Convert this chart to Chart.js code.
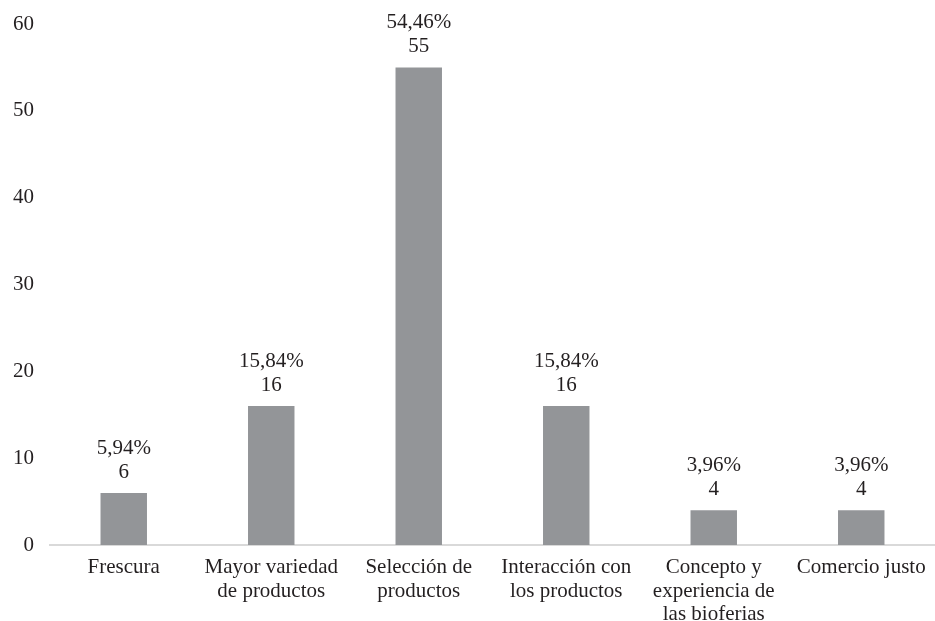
<!DOCTYPE html>
<html>
<head>
<meta charset="utf-8">
<script src="https://cdn.jsdelivr.net/npm/chart.js@4/dist/chart.umd.min.js"></script>
<style>
  html, body { margin: 0; padding: 0; background: #fff; font-family: 'Liberation Serif', serif; }
  #wrap { width: 935px; height: 621px; }
</style>
</head>
<body>
<div id="wrap"><canvas id="myChart"></canvas></div>
<script>
const categories = [
  "Frescura",
  ["Mayor variedad", "de productos"],
  ["Selección de", "productos"],
  ["Interacción con", "los productos"],
  ["Concepto y", "experiencia de", "las bioferias"],
  "Comercio justo",
];
const counts = [6, 16, 55, 16, 4, 4];
const percents = ["5,94%", "15,84%", "54,46%", "15,84%", "3,96%", "3,96%"];
const yTicks = [0, 10, 20, 30, 40, 50, 60];

const FONT = "'Liberation Serif', serif";
const TEXT = "#231f20";

Chart.defaults.font.family = FONT;

// percentage + count stacked above each bar
const barLabels = {
  id: "barLabels",
  afterDatasetsDraw(chart) {
    const ctx = chart.ctx;
    const meta = chart.getDatasetMeta(0);
    ctx.save();
    ctx.font = "21px " + FONT;
    ctx.fillStyle = TEXT;
    ctx.textAlign = "center";
    ctx.textBaseline = "alphabetic";
    meta.data.forEach((bar, i) => {
      ctx.fillText(String(counts[i]), bar.x, bar.y - 15);
      ctx.fillText(percents[i], bar.x, bar.y - 39);
    });
    ctx.restore();
  },
};

function draw() {
  new Chart("myChart", {
    type: "bar",
    data: {
      labels: categories,
      datasets: [
        {
          data: counts,
          backgroundColor: "#939598",
          categoryPercentage: 1,
          barPercentage: 0.315,
        },
      ],
    },
    options: {
      responsive: true,
      maintainAspectRatio: false,
      animation: false,
      layout: { padding: { top: 24, right: 0, left: 0, bottom: 0 } },
      plugins: { legend: { display: false }, tooltip: { enabled: false } },
      scales: {
        x: {
          afterFit: (scale) => {
            scale.height = 76;
          },
          grid: { display: false },
          border: { display: true, color: "#d9d9d9", width: 2 },
          ticks: {
            font: { family: FONT, size: 21, lineHeight: 1.12 },
            color: TEXT,
            maxRotation: 0,
            autoSkip: false,
            padding: 3,
          },
        },
        y: {
          min: 0,
          max: 60,
          afterBuildTicks: (scale) => {
            scale.ticks = yTicks.map((v) => ({ value: v }));
          },
          afterFit: (scale) => {
            scale.width = 50;
          },
          grid: { display: false },
          border: { display: false },
          ticks: {
            font: { family: FONT, size: 21 },
            color: TEXT,
            padding: 8,
          },
        },
      },
    },
    plugins: [barLabels],
  });
}

document.fonts.load("21px 'Liberation Serif'").then(draw, draw);
</script>
</body>
</html>
